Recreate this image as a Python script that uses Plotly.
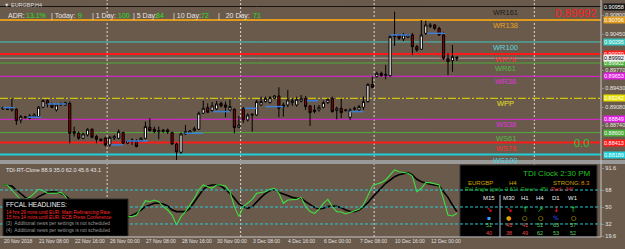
import plotly.graph_objects as go

# ---------------- data ----------------
bar_index = list(range(103))
opens = [
0.89042, 0.89049, 0.89024, 0.89036, 0.88837, 0.88880, 0.88868, 0.88887, 0.88899, 0.89074,
0.89198, 0.89136, 0.89024, 0.89117, 0.89117, 0.89148, 0.88619, 0.88588, 0.88494, 0.88557,
0.88662, 0.88526, 0.88476, 0.88494, 0.88370, 0.88501, 0.88494, 0.88600, 0.88401, 0.88432,
0.88451, 0.88444, 0.88494, 0.88700, 0.88662, 0.88613, 0.88619, 0.88650, 0.88600, 0.88388,
0.88233, 0.88575, 0.88588, 0.88637, 0.88662, 0.88962, 0.89067, 0.89012, 0.89042, 0.89148,
0.89117, 0.89024, 0.89036, 0.88700, 0.89055, 0.88837, 0.88924, 0.88930, 0.89117, 0.89180,
0.89161, 0.89242, 0.89285, 0.89117, 0.89117, 0.89161, 0.89117, 0.89192, 0.89242, 0.89099,
0.89024, 0.89024, 0.89074, 0.89161, 0.89242, 0.89012, 0.89055, 0.89012, 0.88887, 0.89036,
0.89024, 0.89074, 0.89180, 0.89503, 0.89647, 0.89709, 0.89665, 0.89664, 0.90416, 0.90426,
0.90351, 0.90383, 0.90426, 0.90207, 0.90158, 0.90457, 0.90581, 0.90613, 0.90551, 0.90426,
0.89990, 0.89945, 0.90014]
highs = [
0.89086, 0.89061, 0.89242, 0.89055, 0.88930, 0.88912, 0.88949, 0.88962, 0.89099, 0.89223,
0.89223, 0.89161, 0.89148, 0.89161, 0.89180, 0.89180, 0.88712, 0.88619, 0.88600, 0.88681,
0.88681, 0.88557, 0.88494, 0.88526, 0.88538, 0.88557, 0.88662, 0.88619, 0.88463, 0.88494,
0.88476, 0.88513, 0.88806, 0.88868, 0.88712, 0.88712, 0.88662, 0.88675, 0.88619, 0.88413,
0.88600, 0.88743, 0.88650, 0.88712, 0.88993, 0.89198, 0.89148, 0.89173, 0.89192, 0.89180,
0.89180, 0.89223, 0.89055, 0.88912, 0.89074, 0.88962, 0.88962, 0.89211, 0.89273, 0.89273,
0.89285, 0.89304, 0.89447, 0.89161, 0.89398, 0.89242, 0.89273, 0.89304, 0.89285, 0.89117,
0.89117, 0.89117, 0.89198, 0.89242, 0.89273, 0.89086, 0.89242, 0.89042, 0.89055, 0.89086,
0.89117, 0.89273, 0.89522, 0.89647, 0.89740, 0.89740, 0.89865, 0.90426, 0.90861, 0.90444,
0.90463, 0.90444, 0.90463, 0.90239, 0.90706, 0.90693, 0.90650, 0.90631, 0.90581, 0.90487,
0.90083, 0.90239, 0.90014]
lows = [
0.89024, 0.89024, 0.88993, 0.88743, 0.88775, 0.88862, 0.88849, 0.88868, 0.88887, 0.89055,
0.89074, 0.89055, 0.88993, 0.89099, 0.89099, 0.88401, 0.88526, 0.88463, 0.88476, 0.88526,
0.88494, 0.88401, 0.88432, 0.88339, 0.88339, 0.88463, 0.88476, 0.88388, 0.88382, 0.88370,
0.88326, 0.88426, 0.88476, 0.88619, 0.88588, 0.88476, 0.88600, 0.88575, 0.88370, 0.88089,
0.88203, 0.88557, 0.88575, 0.88619, 0.88650, 0.88949, 0.88962, 0.88993, 0.89024, 0.89074,
0.88887, 0.88993, 0.88588, 0.88681, 0.88775, 0.88806, 0.88619, 0.88912, 0.89099, 0.89161,
0.89148, 0.89223, 0.88887, 0.88899, 0.89074, 0.89099, 0.89086, 0.89161, 0.89024, 0.88725,
0.88962, 0.88993, 0.89055, 0.89136, 0.88974, 0.88849, 0.88868, 0.88993, 0.88837, 0.89012,
0.88993, 0.89024, 0.89161, 0.89429, 0.89628, 0.89647, 0.89597, 0.89646, 0.90220, 0.90332,
0.90313, 0.90369, 0.90052, 0.90113, 0.90145, 0.90426, 0.90556, 0.90519, 0.90407, 0.89958,
0.89678, 0.89739, 0.89939]
closes = [
0.89067, 0.89036, 0.89049, 0.88824, 0.88899, 0.88893, 0.88912, 0.88930, 0.89074, 0.89198,
0.89136, 0.89074, 0.89117, 0.89148, 0.89161, 0.88588, 0.88588, 0.88494, 0.88575, 0.88662,
0.88513, 0.88476, 0.88451, 0.88370, 0.88513, 0.88526, 0.88619, 0.88401, 0.88444, 0.88463,
0.88339, 0.88494, 0.88712, 0.88637, 0.88619, 0.88637, 0.88650, 0.88613, 0.88388, 0.88239,
0.88575, 0.88619, 0.88631, 0.88675, 0.88962, 0.89055, 0.88980, 0.89099, 0.89136, 0.89099,
0.89074, 0.89086, 0.88694, 0.88743, 0.88837, 0.88930, 0.88943, 0.89180, 0.89180, 0.89242,
0.89254, 0.89285, 0.89055, 0.89086, 0.89211, 0.89198, 0.89223, 0.89242, 0.89086, 0.88974,
0.88993, 0.89074, 0.89161, 0.89223, 0.88993, 0.89055, 0.88974, 0.89024, 0.89024, 0.89055,
0.89086, 0.89180, 0.89503, 0.89447, 0.89709, 0.89665, 0.89690, 0.90394, 0.90398, 0.90364,
0.90426, 0.90426, 0.90207, 0.90145, 0.90426, 0.90613, 0.90613, 0.90551, 0.90426, 0.89990,
0.89926, 0.90020, 0.89992]

tdi_black = [
73.3, 73.0, 72.2, 68.0, 64.5, 60.2, 58.1, 57.7, 61.0, 63.4,
65.5, 66.2, 65.9, 64.5, 62.0, 58.0, 54.0, 50.0, 47.0, 45.0,
44.0, 43.0, 42.0, 42.0, 41.0, 40.0, 40.0, 39.0, 39.0, 41.5,
43.3, 46.8, 50.4, 52.1, 53.9, 53.9, 53.2, 51.1, 46.8, 45.1,
45.1, 45.1, 48.6, 55.6, 62.7, 68.7, 72.2, 73.3, 73.3, 72.2,
68.7, 64.5, 59.2, 53.2, 50.4, 48.6, 50.4, 55.6, 60.2, 64.5,
67.3, 68.7, 65.2, 63.8, 61.6, 60.2, 59.2, 59.2, 55.6, 52.8,
49.6, 47.9, 48.6, 50.4, 51.1, 50.7, 49.3, 46.8, 45.4, 45.1,
46.8, 50.4, 54.6, 60.2, 65.2, 69.8, 75.1, 78.6, 82.1, 84.2,
85.7, 86.4, 83.9, 79.3, 76.8, 75.1, 74.0, 73.3, 72.6, 66.2,
60.2, 52.1, 45.1]
tdi_green = [
73.3, 73.0, 68.0, 62.7, 57.4, 58.1, 60.2, 64.5, 68.7, 67.3,
64.5, 64.5, 64.5, 65.5, 61.6, 52.0, 45.0, 42.0, 44.0, 40.0,
38.0, 42.0, 36.0, 40.0, 38.0, 41.0, 37.0, 38.0, 40.0, 39.8,
41.5, 48.6, 56.7, 55.6, 57.4, 55.6, 50.4, 46.8, 41.5, 30.9,
39.8, 45.1, 52.1, 59.2, 68.0, 73.3, 71.5, 69.8, 73.3, 73.3,
72.2, 66.2, 50.4, 39.8, 50.4, 53.9, 58.1, 64.5, 65.2, 66.2,
68.7, 69.8, 64.5, 53.9, 57.4, 58.1, 58.1, 60.2, 50.4, 45.1,
43.3, 47.5, 53.9, 58.1, 50.4, 45.1, 44.7, 42.6, 44.0, 46.1,
47.5, 52.1, 62.7, 72.2, 74.4, 75.8, 78.6, 83.9, 89.2, 87.4,
86.4, 85.7, 82.8, 66.2, 69.8, 75.8, 75.8, 74.4, 73.3, 58.1,
41.5, 40.5, 43.3]

level_names = ["WR161", "WR138", "WR100", "WR78", "WR61", "WR38", "WPP",
               "WS38", "WS61", "WS78", "WS100"]
level_prices = [0.90958, 0.90706, 0.90295, 0.90070, 0.89902, 0.89653, 0.89242,
                0.88849, 0.88600, 0.88413, 0.88189]
bid_price = 0.89992
grid_prices = [0.90800, 0.90450, 0.89770, 0.89430, 0.89080, 0.88740, 0.88060]

blue_start = [0, 5.6, 10, 24.3, 27.7, 40.8, 47.2, 54.3, 59, 68.3, 78, 87, 95.3]
blue_end = [2.6, 8.6, 14.2, 27, 32.6, 45, 51, 57, 63, 70.8, 81, 91.5, 99.3]
blue_price = [0.89067, 0.88887, 0.89136, 0.88370, 0.88444, 0.88588, 0.88993,
              0.89055, 0.89086, 0.89197, 0.88993, 0.90426, 0.90457]

proj_index = [94.6, 100.0]
proj_price = [0.90345, 0.89837]

tdi_levels = [68, 50, 32]
tdi_axis_labels = [91.6, 68, 50, 32, 19.6]

time_index = [0, 8, 16, 24, 32, 40, 48, 56, 64, 72, 80, 88, 96]
time_labels = ["20 Nov 2018", "21 Nov 08:00", "22 Nov 16:00", "26 Nov 00:00",
               "27 Nov 08:00", "28 Nov 16:00", "30 Nov 00:00", "3 Dec 08:00",
               "4 Dec 16:00", "6 Dec 00:00", "7 Dec 08:00", "10 Dec 16:00",
               "12 Dec 00:00"]
separator_index = [24, 54, 84, 120]

adr_labels = ["ADR:", "| Today:", "| 1 Day:", "| 5 Day:", "| 10 Day:", "|   20 Day:"]
adr_values = ["13.1%", "9", "100", "84", "72", "71"]

tf_names = ["M15", "M30", "H1", "H4", "D1", "W1"]
tf_arrows = ["↘", "↘", "↑", "↗", "↓", "↑"]
tf_row1 = [51, 45, 41, 51, 63, 57]
tf_row2 = [40, 38, 49, 62, 53, 52]

news_lines = ["14 hrs 29 mins until EUR: Main Refinancing Rate",
              "15 hrs 14 mins until EUR: ECB Press Conference",
              "(3)  Additional news per settings is not scheduled",
              "(4)  Additional news per settings is not scheduled"]

# ---------------- style ----------------
BG = "#6a5a4b"
FONT = "Liberation Sans"
level_colors = ["#151515", "#e09a1c", "#3cc8c0", "#ff1a1a", "#4cae3c", "#e01ee0",
                "#e8e000", "#e01ee0", "#4cae3c", "#ff1a1a", "#20d0dc"]
level_text_colors = ["#1a1a1a", "#e8a020", "#50d8e0", "#ff3030", "#50b848", "#e030e0",
                     "#e8e020", "#e030e0", "#50b848", "#ff3030", "#40d8e8"]
level_widths = [1, 2, 1, 2, 1, 1, 1, 1, 1, 2, 2]
level_dash = ["solid"] * 6 + ["8px,2px,2px,2px"] + ["solid"] * 4

W, H = 625, 249
ML, MR, MT, MB = 0, 24, 0, 12
PW, PH = W - ML - MR, H - MT - MB
BAR_PX = 4.45
X0_PX = 3.0
xmin = (0 - X0_PX) / BAR_PX
xmax = (PW - X0_PX) / BAR_PX


def pxx(x):
    return x / PW


def pxy(y):
    return (PH - y) / PH


MAIN_BOTTOM = 160
TDI_TOP = 164
main_dom = [pxy(MAIN_BOTTOM), 1]
tdi_dom = [0, pxy(TDI_TOP)]

fig = go.Figure()

shapes = []
for s in separator_index:
    shapes.append(dict(type="line", xref="x", yref="paper", x0=s - 0.6, x1=s - 0.6,
                       y0=0, y1=1, line=dict(color="#d8d8d8", width=1, dash="2px,2px"),
                       layer="below"))
for p, c, w, d in zip(level_prices, level_colors, level_widths, level_dash):
    shapes.append(dict(type="line", xref="paper", yref="y", x0=0, x1=1, y0=p, y1=p,
                       line=dict(color=c, width=w, dash=d), layer="below"))
shapes.append(dict(type="line", xref="paper", yref="y", x0=0, x1=1, y0=bid_price, y1=bid_price,
                   line=dict(color="#a8a8a8", width=1), layer="below"))
shapes.append(dict(type="rect", xref="paper", yref="paper", x0=pxx(460), x1=pxx(597),
                   y0=pxy(237), y1=pxy(165), fillcolor="#000000",
                   line=dict(color="#303030", width=1), layer="below"))

fig.add_trace(go.Candlestick(
    x=bar_index, open=opens, high=highs, low=lows, close=closes,
    increasing=dict(line=dict(color="#000000", width=1), fillcolor="#ffffff"),
    decreasing=dict(line=dict(color="#000000", width=1), fillcolor="#8b0000"),
    whiskerwidth=0, showlegend=False, hoverinfo="skip", xaxis="x", yaxis="y"))

bx, by = [], []
for s, e, p in zip(blue_start, blue_end, blue_price):
    bx += [s, e, None]
    by += [p, p, None]
fig.add_trace(go.Scatter(x=bx, y=by, mode="lines", line=dict(color="#3c7fd8", width=1.5),
                         showlegend=False, hoverinfo="skip", xaxis="x", yaxis="y"))
fig.add_trace(go.Scatter(x=proj_index, y=proj_price, mode="lines",
                         line=dict(color="#e02020", width=1, dash="2px,2px"),
                         showlegend=False, hoverinfo="skip", xaxis="x", yaxis="y"))

fig.add_trace(go.Scatter(x=bar_index, y=tdi_black, mode="lines",
                         line=dict(color="#000000", width=1.6),
                         showlegend=False, hoverinfo="skip", xaxis="x", yaxis="y2"))
fig.add_trace(go.Scatter(x=bar_index, y=tdi_green, mode="lines",
                         line=dict(color="#3ee03e", width=1.1),
                         showlegend=False, hoverinfo="skip", xaxis="x", yaxis="y2"))
for lv in tdi_levels:
    fig.add_trace(go.Scatter(x=[xmin, xmax], y=[lv, lv], mode="lines",
                             line=dict(color="#28c8d0", width=1, dash="3px,2px"),
                             showlegend=False, hoverinfo="skip", xaxis="x", yaxis="y2"))

shapes.append(dict(type="rect", xref="paper", yref="paper", x0=pxx(3), x1=pxx(128),
                   y0=pxy(236), y1=pxy(199), fillcolor="#000000",
                   line=dict(color="#2a2a2a", width=1), layer="above"))
shapes.append(dict(type="rect", xref="paper", yref="paper", x0=0, x1=1 + MR / PW,
                   y0=pxy(TDI_TOP), y1=pxy(MAIN_BOTTOM), fillcolor="#9a9a9a",
                   line=dict(width=0), layer="above"))
shapes.append(dict(type="line", xref="paper", yref="paper", x0=1, x1=1, y0=0, y1=1,
                   line=dict(color="#c8c8c8", width=1), layer="above"))
shapes.append(dict(type="line", xref="paper", yref="paper", x0=0, x1=1, y0=0, y1=0,
                   line=dict(color="#c8c8c8", width=1), layer="above"))

ann = []


def txt(x, y, s, color="#e0e0e0", size=6, xanchor="left", yanchor="middle", bg=None,
        family=FONT, xref="paper", yref="paper", width=None):
    d = dict(x=x, y=y, xref=xref, yref=yref, text=s, showarrow=False,
             xanchor=xanchor, yanchor=yanchor, font=dict(color=color, size=size, family=family),
             borderpad=0)
    if bg:
        d["bgcolor"] = bg
    if width:
        d["width"] = width
        d["align"] = "left"
    ann.append(d)


txt(pxx(3), pxy(5), "▼ EURGBP,H4", color="#dcdcdc", size=5.5)
adr_lx = [7, 50, 91, 132, 172, 217]
adr_vx = [25, 77, 117, 155, 200, 252]
for lab, val, lx, vx in zip(adr_labels, adr_values, adr_lx, adr_vx):
    txt(pxx(lx), pxy(16), lab, color="#e6e6e6", size=7)
    txt(pxx(vx), pxy(16), val, color="#22e022", size=7)

for name, p, c in zip(level_names, level_prices, level_text_colors):
    txt(113, p, name, color=c, size=7.5, xanchor="center", yanchor="top",
        xref="x", yref="y")
txt(pxx(598), pxy(12.5), f"{bid_price:.5f}", color="#ff2020", size=11.5, xanchor="right")
txt(pxx(573), pxy(143), "0.0", color="#3cbf3c", size=11)

for g in grid_prices:
    txt(1, g, "- " + f"{g:.5f}", color="#e8e8e8", size=5.5, xref="paper", yref="y")
for p, c in zip(level_prices, level_colors):
    txt(1.003, p, f"{p:.5f}", color="#ffffff", size=5.5, bg=c, xref="paper", yref="y", width=22)
txt(1.003, bid_price, f"{bid_price:.5f}", color="#000000", size=5.5, bg="#f0f0f0",
    xref="paper", yref="y", width=22)
for v in tdi_axis_labels:
    lab = f"{v:g}"
    txt(1, v, "- " + lab, color="#e8e8e8", size=5.5, xref="paper", yref="y2")

for i, lab in zip(time_index, time_labels):
    txt(i - 0.1, -(241 - PH) / PH, lab, color="#e0e0e0", size=5, xref="x", yref="paper")

txt(pxx(5), pxy(170), "TDI-RT-Clone 88.9 35.0 62.0 45.6 43.1", color="#e6e6e6", size=5.5)

txt(pxx(5), pxy(204.5), "FFCAL HEADLINES:", color="#f0f0f0", size=6.5)
news_y = [212.3, 217.7, 223.6, 230.4]
news_c = ["#ff2a2a", "#ff2a2a", "#9a9a9a", "#9a9a9a"]
for s, y, c in zip(news_lines, news_y, news_c):
    txt(pxx(5), pxy(y), s, color=c, size=4.8)

txt(pxx(591), pxy(173.5), "TDI Clock 2:30 PM", color="#22c022", size=8, xanchor="right")
txt(pxx(467), pxy(182.8), "EURGBP", color="#d4a400", size=6)
txt(pxx(508), pxy(182.8), "H4", color="#d4a400", size=6)
txt(pxx(552), pxy(182.8), "STRONG:", color="#d4a400", size=6)
txt(pxx(580), pxy(182.8), "8.3", color="#e08a00", size=6)
txt(pxx(464), pxy(188.8),
    "<span style='color:#22b022'>Rel.Angle (grn): -0.61°  Green: -45°</span>"
    "  <span style='color:#e03030'>Red: -34°</span>", size=5.3)
shapes.append(dict(type="line", xref="paper", yref="paper", x0=pxx(500), x1=pxx(500),
                   y0=pxy(237), y1=pxy(195), line=dict(color="#a8b8d0", width=1), layer="above"))
tf_x = [489, 508.5, 524.5, 540, 556, 573]
arrow_c = ["#ff2020", "#ff2020", "#20d020", "#20d020", "#ff2020", "#20d020"]
dot_s = ["▪", "●", "○", "○", "%", "○"]
dot_c = ["#3aa0ff", "#e0a000", "#ffe000", "#ffe000", "#3050ff", "#ffe000"]
for n, xx, a, ac, ds, dc, r1, r2 in zip(tf_names, tf_x, tf_arrows, arrow_c, dot_s, dot_c,
                                        tf_row1, tf_row2):
    txt(pxx(xx), pxy(198.3), n, color="#f0f0f0", size=6, xanchor="center")
    txt(pxx(xx), pxy(209.3), a, color=ac, size=7.5, xanchor="center", family="DejaVu Sans")
    txt(pxx(xx), pxy(217.6), ds, color=dc, size=6, xanchor="center", family="DejaVu Sans")
    txt(pxx(xx), pxy(225.2), str(r1), color="#60cc60" if r1 >= 50 else "#e04848",
        size=5.5, xanchor="center")
    txt(pxx(xx), pxy(233.3), str(r2), color="#60cc60" if r2 >= 50 else "#e04848",
        size=5.5, xanchor="center")

fig.update_layout(
    width=W, height=H, margin=dict(l=ML, r=MR, t=MT, b=MB),
    paper_bgcolor=BG, plot_bgcolor=BG, showlegend=False,
    shapes=shapes, annotations=ann,
    xaxis=dict(range=[xmin, xmax], showgrid=False, zeroline=False, showticklabels=False,
               ticks="", rangeslider=dict(visible=False), anchor="y2", fixedrange=True),
    yaxis=dict(domain=main_dom, range=[0.91080 - 0.000187 * MAIN_BOTTOM, 0.91080],
               showgrid=False, zeroline=False, showticklabels=False, ticks="", anchor="x"),
    yaxis2=dict(domain=tdi_dom, range=[68 - (PH - 190) / 0.944, 68 + (190 - TDI_TOP) / 0.944],
                showgrid=False, zeroline=False, showticklabels=False, ticks="", anchor="x"),
)

fig.write_html("out.html")
